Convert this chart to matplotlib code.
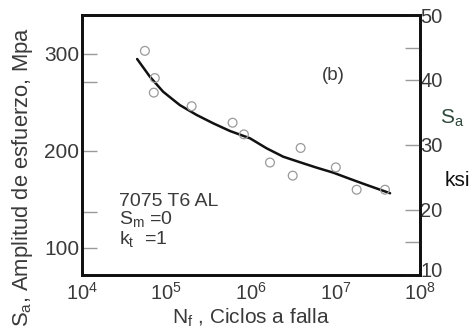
import numpy as np
import matplotlib.pyplot as plt
import matplotlib.transforms as mtransforms
from matplotlib.ticker import FixedLocator, NullFormatter

plt.rcParams['font.family'] = ['Liberation Sans', 'DejaVu Sans']
plt.rcParams['mathtext.fontset'] = 'custom'
plt.rcParams['mathtext.rm'] = 'Liberation Sans'
plt.rcParams['mathtext.it'] = 'Liberation Sans'

# puntos experimentales (ciclos, MPa)
ciclos_ensayo = [5.57e4, 7.3e4, 7.1e4, 1.99e5, 6.07e5, 8.26e5, 1.68e6,
                 3.87e6, 3.12e6, 1.01e7, 1.78e7, 3.85e7]
sa_ensayo = [303, 275, 260, 246, 229, 217, 188, 203, 174.5, 183, 160, 160]

# curva ajustada (leida punto a punto)
ciclos_curva = [4.51e4, 6.38e4, 9.16e4, 1.44e5, 2.28e5, 3.58e5, 5.64e5, 9.72e5,
                1.53e6, 2.41e6, 3.80e6, 6.0e6, 9.4e6, 1.49e7, 2.34e7, 4.42e7]
sa_curva = [294.6, 276.4, 260.9, 247.2, 237.0, 228.4, 220.5, 213.0,
            202.7, 194.0, 188.3, 182.7, 177.6, 171.1, 164.9, 156.4]

ksi_ticks = [10, 20, 30, 40, 50]
mpa_ticks = [100, 200, 300]

gris = '#3a3a3a'

fig = plt.figure(figsize=(4.73, 3.34), dpi=100)
ax = fig.add_axes([0.173, 0.177, 0.715, 0.778])

ax.plot(ciclos_curva, sa_curva, color='#111111', lw=1.8, solid_capstyle='round')
ax.scatter(ciclos_ensayo, sa_ensayo, s=40, facecolors='none',
           edgecolors='#9a9a9a', linewidths=0.9, zorder=3)

ax.set_xscale('log')
ax.set_xlim(1e4, 1e8)
ax.set_ylim(72.3, 339.9)
ax.set_xticks([1e4, 1e5, 1e6, 1e7, 1e8])
ax.set_xticklabels([r'$10^{4}$', r'$10^{5}$', r'$10^{6}$', r'$10^{7}$', r'$10^{8}$'])
ax.xaxis.set_minor_locator(FixedLocator([]))
ax.tick_params(axis='x', length=0, pad=5, labelsize=14.5, colors=gris)

ax.set_yticks(mpa_ticks)
ax.yaxis.set_minor_locator(FixedLocator([271, 137]))
ax.yaxis.set_minor_formatter(NullFormatter())
ax.tick_params(axis='y', which='both', direction='in', length=11, width=1,
               color='#999999', labelsize=15, labelcolor=gris, pad=2)

for s in ax.spines.values():
    s.set_linewidth(2)
    s.set_color('#111111')

ax2 = ax.twinx()
ax2.set_ylim(10, 50)
ax2.set_yticks(ksi_ticks)
ax2.yaxis.set_minor_locator(FixedLocator([15, 45]))
ax2.yaxis.set_minor_formatter(NullFormatter())
ax2.tick_params(axis='y', which='both', direction='in', length=11, width=1,
                color='#999999', labelsize=14.5, labelcolor=gris, pad=0)
for s in ax2.spines.values():
    s.set_linewidth(2)
    s.set_color('#111111')

# el "10" de abajo a la derecha va un poco mas arriba, como en el original
fig.canvas.draw()
lbl10 = ax2.get_yticklabels()[0]
lbl10.set_transform(lbl10.get_transform() +
                    mtransforms.ScaledTranslation(0, 4 / 72, fig.dpi_scale_trans))

fig.text(0.047, 0.469, r'S$_{\mathrm{a}}$, Amplitud de esfuerzo, Mpa', fontsize=15.8,
         color=gris, rotation=90, ha='center', va='center')
ax.set_xlabel(r'N$_{\mathrm{f}}$ , Ciclos a falla', fontsize=15, color=gris, labelpad=2)

ax.text(0.71, 0.75, '(b)', transform=ax.transAxes, fontsize=13.5, color=gris)
ax.text(0.11, 0.265, '7075 T6 AL', transform=ax.transAxes, fontsize=14, color=gris)
ax.text(0.11, 0.195, r'S$_{\mathrm{m}}$ =0', transform=ax.transAxes, fontsize=14, color=gris)
ax.text(0.11, 0.12, r'k$_{\mathrm{t}}$  =1', transform=ax.transAxes, fontsize=14, color=gris)

fig.text(0.93, 0.645, r'S$_{\mathrm{a}}$', fontsize=15, color='#2f4a3c', ha='left', va='center')
fig.text(0.94, 0.461, 'ksi', fontsize=15, color='#111111', ha='left', va='center')

fig.savefig('out.png', dpi=100)
